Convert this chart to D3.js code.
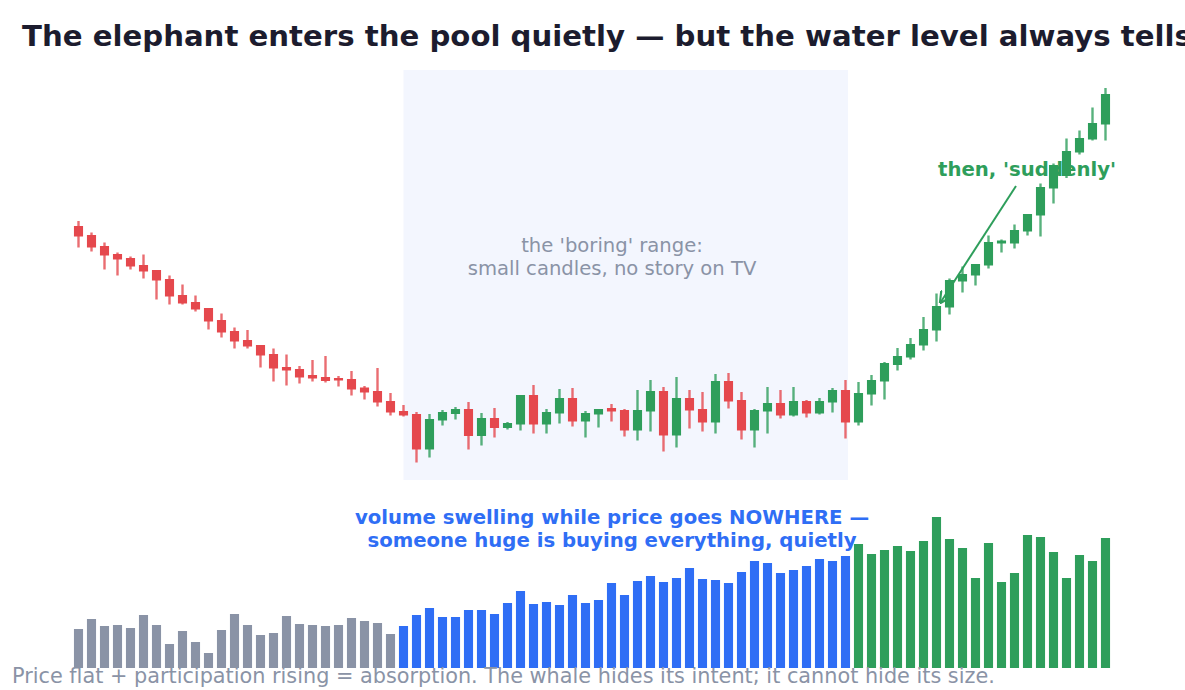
<!DOCTYPE html>
<html>
<head>
<meta charset="utf-8">
<script src="https://cdn.jsdelivr.net/npm/d3@7"></script>
<style>
  html, body { margin: 0; padding: 0; background: #ffffff; overflow: hidden; }
  svg { display: block; font-family: "DejaVu Sans", sans-serif; }
</style>
</head>
<body>
<svg id="chart" width="1185" height="690"></svg>
<script>
// ---- data ----
const opens  = [134.8,133.0,130.8,129.2,128.4,127.0,126.0,124.2,121.0,119.6,118.4,116.0,113.8,112.0,111.0,109.2,106.6,106.2,105.0,104.6,104.4,104.2,102.5,101.8,99.8,
                97.8,97.2,90.1,95.9,97.2,98.2,92.8,96.4,94.4,95.1,101.0,95.1,97.3,100.4,95.7,97.1,98.4,98.0,93.9,97.7,101.8,92.9,100.4,98.2,95.5,103.8,100.0,93.9,97.7,99.4,96.9,99.8,97.3,99.5,102.0,
                95.5,101.1,103.7,107.0,108.5,110.9,113.9,118.5,123.7,124.9,126.9,131.3,131.3,133.7,136.9,142.3,144.8,149.5,152.1,155.1];
const highs  = [135.8,133.5,131.5,129.5,128.7,129.1,126.0,124.9,123.1,120.9,118.4,117.3,114.5,114.0,111.0,110.3,109.1,106.8,108.0,108.8,104.8,105.8,102.8,106.4,101.4,
                99.0,97.6,97.2,98.0,98.6,99.6,97.4,98.4,95.6,101.0,103.0,98.2,102.2,102.4,97.8,98.2,99.2,98.2,102.0,104.0,102.6,104.6,102.0,101.6,105.2,105.4,101.6,98.2,102.6,102.0,102.6,100.0,100.4,102.4,104.0,
                103.6,105.0,107.6,110.4,112.4,116.6,121.3,124.3,126.7,127.2,132.9,132.1,135.1,137.2,143.3,147.3,152.3,153.9,158.5,162.4];
const lows   = [130.5,129.7,126.1,124.9,126.1,124.3,120.1,119.1,119.1,117.7,114.1,112.5,110.3,110.3,106.5,103.7,102.9,103.3,103.7,103.5,102.7,100.9,100.1,98.7,96.9,
                96.7,87.5,88.5,94.9,96.1,90.1,90.9,92.5,94.1,93.9,93.3,93.3,95.3,94.7,92.5,94.5,95.7,92.7,91.9,93.7,89.7,90.5,94.3,93.7,93.3,98.3,92.1,90.5,93.3,96.3,96.7,96.5,97.1,97.5,92.3,
                94.9,98.9,100.1,105.9,108.1,109.9,111.7,117.1,121.5,122.9,126.3,129.5,130.3,132.9,132.7,139.3,144.4,149.1,151.9,151.9];
const closes = [132.7,130.5,128.9,128.1,126.7,125.7,123.9,120.7,119.3,118.1,115.7,113.5,111.7,110.7,108.9,106.3,105.9,104.5,104.3,103.8,103.9,102.1,101.5,99.5,97.5,
                96.9,90.1,96.2,97.6,98.2,92.8,96.4,94.4,95.4,101.0,95.1,97.6,100.4,95.7,97.4,98.2,97.7,93.9,98.0,101.8,92.9,100.4,97.9,95.5,103.8,99.7,93.9,98.0,99.4,96.9,99.8,97.3,99.8,102.0,95.5,
                101.4,104.0,107.4,108.8,111.2,114.2,118.8,124.0,125.2,127.2,131.6,131.9,134.0,137.2,142.6,147.0,149.8,152.4,155.4,161.2];
const volumes = [39,49,42,43,40,53,43,24,37,26,15,38,54,43,33,35,52,44,43,42,43,50,47,45,34,
                 42,53,60,51,51,58,58,54,65,77,64,66,63,73,65,68,85,73,87,92,86,90,100,89,88,85,96,107,105,95,98,102,109,107,112,
                 124,114,118,122,117,127,151,129,120,90,125,86,95,133,131,116,90,113,107,130];
// phases: 0 = decline (grey volume), 1 = accumulation range (blue), 2 = markup (green)
const phaseStarts = [0, 25, 60];
const rangeBounds = [25, 59];      // the 'boring' range, candle indices
const rangePrice  = [84, 166];     // vertical extent of the shaded band (price units)

const title   = "The elephant enters the pool quietly \u2014 but the water level always tells";
const footer  = "Price flat + participation rising = absorption. The whale hides its intent; it cannot hide its size.";
const boringLines = ["the 'boring' range:", "small candles, no story on TV"];
const volumeLines = ["volume swelling while price goes NOWHERE \u2014", "someone huge is buying everything, quietly"];
const suddenText  = "then, 'suddenly'";

// ---- colours ----
const RED = "#e5484d", GREEN = "#2e9e5b", BLUE = "#2f6ef5", GREY = "#8a93a6";

const candles = opens.map((o, i) => ({ i, o, h: highs[i], l: lows[i], c: closes[i], v: volumes[i],
  phase: i >= phaseStarts[2] ? 2 : (i >= phaseStarts[1] ? 1 : 0) }));

const svg = d3.select("#chart");

const x = d3.scaleBand().domain(d3.range(candles.length)).range([72, 1112]).paddingInner(0.3).paddingOuter(0.15);
const y = d3.scaleLinear().domain([80, 170]).range([500, 50]);
const yv = d3.scaleLinear().domain([0, 160]).range([668, 508]);
const bw = x.bandwidth();
const xc = i => x(i) + bw / 2;

// shaded range
svg.append("rect")
  .attr("x", xc(rangeBounds[0]))
  .attr("y", y(rangePrice[1]))
  .attr("width", xc(rangeBounds[1]) + 2.5 - xc(rangeBounds[0]))
  .attr("height", y(rangePrice[0]) - y(rangePrice[1]))
  .attr("fill", "#f3f6fe");

// candles
const g = svg.append("g");
const col = d => d.c >= d.o ? GREEN : RED;
g.selectAll("line.wick").data(candles).join("line")
  .attr("class", "wick")
  .attr("x1", d => xc(d.i)).attr("x2", d => xc(d.i))
  .attr("y1", d => y(d.h)).attr("y2", d => y(d.l))
  .attr("stroke", col).attr("stroke-width", 2.4).attr("stroke-opacity", 0.8);
g.selectAll("rect.body").data(candles).join("rect")
  .attr("class", "body")
  .attr("x", d => x(d.i)).attr("width", bw)
  .attr("y", d => y(Math.max(d.o, d.c)))
  .attr("height", d => Math.max(1.5, Math.abs(y(d.o) - y(d.c))))
  .attr("fill", col);

// volume
const volCol = [GREY, BLUE, GREEN];
svg.append("g").selectAll("rect").data(candles).join("rect")
  .attr("x", d => x(d.i)).attr("width", bw)
  .attr("y", d => yv(d.v)).attr("height", d => yv(0) - yv(d.v))
  .attr("fill", d => volCol[d.phase]);

// texts
svg.append("text").attr("x", 22).attr("y", 46)
  .attr("font-size", 29.2).attr("font-weight", "bold").attr("fill", "#1c1c2e")
  .text(title);

const bt = svg.append("text").attr("text-anchor", "middle").attr("font-size", 19.6).attr("fill", GREY);
boringLines.forEach((t, k) => bt.append("tspan").attr("x", 612).attr("y", 252 + k * 22.5).text(t));

const vt = svg.append("text").attr("text-anchor", "middle").attr("font-size", 19.7).attr("font-weight", "bold").attr("fill", BLUE);
volumeLines.forEach((t, k) => vt.append("tspan").attr("x", 612).attr("y", 524 + k * 22.5).text(t));

// arrow to the breakout
svg.append("defs").append("marker")
  .attr("id", "arr").attr("viewBox", "0 0 10 10").attr("refX", 9).attr("refY", 5)
  .attr("markerWidth", 6).attr("markerHeight", 6).attr("orient", "auto")
  .append("path").attr("d", "M0,0 L10,5 L0,10").attr("fill", "none").attr("stroke", GREEN).attr("stroke-width", 1.8);
svg.append("line")
  .attr("x1", 1016).attr("y1", 186).attr("x2", xc(67) - 9).attr("y2", y(119.5))
  .attr("stroke", GREEN).attr("stroke-width", 2).attr("marker-end", "url(#arr)");

svg.append("text").attr("x", 1027).attr("y", 176).attr("text-anchor", "middle")
  .attr("font-size", 19.7).attr("font-weight", "bold").attr("fill", GREEN)
  .text(suddenText);

svg.append("text").attr("x", 12).attr("y", 683)
  .attr("font-size", 20.8).attr("fill", GREY)
  .text(footer);
</script>
</body>
</html>
